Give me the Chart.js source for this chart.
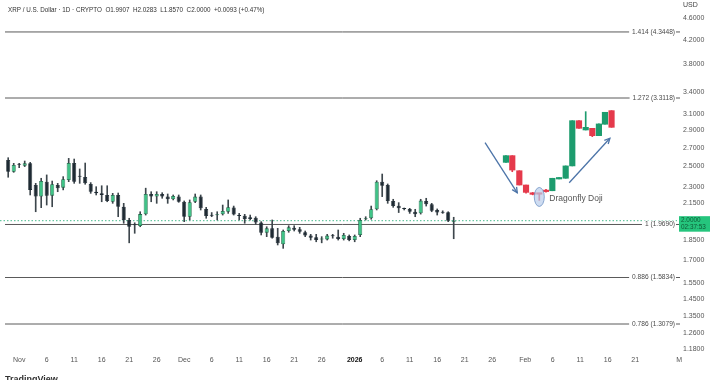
<!DOCTYPE html>
<html><head><meta charset="utf-8">
<script src="https://cdn.jsdelivr.net/npm/chart.js@4.4.1/dist/chart.umd.min.js"></script>
<style>html,body{margin:0;padding:0;background:#fff;}canvas{display:block;}</style>
</head><body>
<canvas id="c" width="720" height="380"></canvas>
<script>
// ---- data (days counted from 1 Nov 2025) ----
const firstDay = -2; // 30 Oct 2025
const open = [
 2.567,2.446,2.522,2.508,2.532,2.316,2.208,2.348,2.217,2.316,
 2.291,2.364,2.535,2.407,2.394,2.326,2.253,2.238,2.223,2.162,
 2.223,2.117,2.006,1.967,1.956,2.053,2.232,2.208,2.232,2.208,
 2.184,2.208,2.162,2.033,2.162,2.208,2.099,2.047,2.045,2.053,
 2.075,2.111,2.042,2.041,2.028,2.024,1.986,1.904,1.938,1.873,
 1.815,1.917,1.943,1.930,1.907,1.881,1.868,1.852,1.852,1.879,
 1.873,1.855,1.878,1.847,1.886,2.012,2.020,2.096,2.348,2.316,
 2.169,2.127,2.099,2.099,2.075,2.062,2.169,2.139,2.090,2.070,
 2.071,1.9907];
const high = [
 2.591,2.532,2.532,2.556,2.542,2.332,2.381,2.414,2.354,2.332,
 2.397,2.584,2.577,2.474,2.535,2.339,2.300,2.309,2.309,2.238,
 2.241,2.148,2.020,1.983,2.075,2.286,2.253,2.253,2.244,2.232,
 2.223,2.223,2.169,2.178,2.232,2.223,2.113,2.068,2.075,2.133,
 2.178,2.124,2.061,2.053,2.047,2.033,1.992,1.951,2.006,1.938,
 1.925,1.959,1.959,1.946,1.917,1.891,1.891,1.873,1.891,1.891,
 1.925,1.899,1.886,1.886,2.020,2.033,2.124,2.357,2.423,2.326,
 2.184,2.154,2.107,2.104,2.096,2.184,2.193,2.148,2.099,2.083,
 2.075,2.0283];
const low = [
 2.391,2.440,2.487,2.498,2.223,2.075,2.110,2.133,2.118,2.253,
 2.270,2.348,2.332,2.332,2.323,2.238,2.223,2.162,2.162,2.148,
 2.033,1.979,1.826,1.899,1.951,2.047,2.162,2.148,2.193,2.148,
 2.178,2.157,1.992,2.006,2.154,2.090,2.020,2.033,2.006,2.047,
 2.061,2.047,2.006,1.979,2.006,1.971,1.886,1.873,1.861,1.810,
 1.785,1.907,1.917,1.899,1.873,1.847,1.834,1.826,1.847,1.861,
 1.847,1.847,1.841,1.834,1.873,2.006,2.012,2.090,2.208,2.148,
 2.113,2.068,2.090,2.061,2.033,2.055,2.124,2.075,2.047,2.061,
 1.992,1.8570];
const close = [
 2.446,2.515,2.517,2.532,2.270,2.208,2.354,2.217,2.323,2.286,
 2.372,2.535,2.348,2.397,2.332,2.253,2.238,2.223,2.169,2.223,
 2.117,2.006,1.951,1.962,2.055,2.232,2.208,2.232,2.208,2.184,
 2.214,2.162,2.033,2.157,2.208,2.104,2.039,2.042,2.049,2.082,
 2.113,2.051,2.039,2.014,2.014,1.986,1.904,1.938,1.865,1.822,
 1.917,1.946,1.927,1.911,1.881,1.865,1.847,1.855,1.881,1.877,
 1.855,1.886,1.847,1.878,2.006,2.017,2.096,2.348,2.309,2.169,
 2.124,2.104,2.098,2.075,2.053,2.172,2.139,2.083,2.068,2.067,
 2.000,2.0000];

// illustrated pattern (drawn over the chart)
const patDays  = [88.5,89.65,90.93,92.15,93.36,94.56,95.78,96.93,98.15,99.36,100.56,101.78,103.0,104.2,105.4,106.5,107.7];
const patOpen  = [2.542,2.613,2.456,2.316,2.243,2.232,2.262,2.262,2.374,2.381,2.505,3.017,2.904,2.924,2.837,2.973,3.144];
const patHigh  = [2.613,2.613,2.456,2.316,2.246,2.232,2.276,2.381,2.387,2.505,3.017,3.017,3.131,2.924,2.977,3.123,3.144];
const patLow   = [2.542,2.446,2.316,2.239,2.224,2.174,2.249,2.262,2.374,2.381,2.505,2.924,2.904,2.825,2.837,2.973,2.936];
const patClose = [2.613,2.463,2.316,2.247,2.229,2.230,2.254,2.381,2.387,2.505,3.017,2.924,2.936,2.837,2.977,3.123,2.936];

const arrow1X = [84.7, 90.56],  arrow1Y = [2.757, 2.243];
const arrow2X = [100.0, 107.4], arrow2Y = [2.338, 2.807];
const dojiMark = {x: 94.56, y: 2.205, text: 'Dragonfly Doji'};

const fibRatios = ['1.414','1.272','1','0.886','0.786'];
const fibValues = [4.3448, 3.3118, 1.9690, 1.5834, 1.3079];
const lastPrice = 2.0000, countdown = '02:37:53';

const yTickValues = [1.18,1.26,1.35,1.45,1.55,1.7,1.85,2.15,2.3,2.5,2.7,2.9,3.1,3.4,3.8,4.2,4.6];
const xTickDays   = [0,5,10,15,20,25,30,35,40,45,50,55,61,66,71,76,81,86,92,97,102,107,112,120];
const xTickLabels = ['Nov','6','11','16','21','26','Dec','6','11','16','21','26','2026','6','11','16','21','26','Feb','6','11','16','21','M'];
const headerText = 'XRP / U.S. Dollar · 1D · CRYPTO  O1.9907  H2.0283  L1.8570  C2.0000  +0.0093 (+0.47%)';

// ---- styling ----
const FONT = '"Liberation Sans", Arial, sans-serif';
const upFill = '#3fc487', upLine = '#1f6a48', dnFill = '#1e2a33', dnLine = '#1e2a33', wickCol = '#3d464c';
const pUp = '#1d9c6e', pDn = '#e5394b';
const arrowColor = '#4c74a8';
const X_MIN = -3.491, X_MAX = 120.145, Y_MIN = 1.1657, Y_MAX = 4.955;

const days = open.map((_, i) => firstDay + i);
const isUp = open.map((o, i) => close[i] >= o);

const datasets = [];
datasets.push({
  type:'bar', label:'body', order:0, grouped:false,
  data: days.map((d,i)=>({x:d, y:[open[i], close[i]]})),
  backgroundColor: isUp.map(u=>u?upFill:dnFill),
  borderColor: isUp.map(u=>u?upLine:dnLine),
  borderWidth: 0.8, borderSkipped:false, minBarLength:1,
  barPercentage:0.74, categoryPercentage:1
});
datasets.push({
  type:'bar', label:'wick', order:1, grouped:false,
  data: days.map((d,i)=>({x:d, y:[low[i], high[i]]})),
  backgroundColor: wickCol, borderWidth:0,
  barPercentage:1, categoryPercentage:1, maxBarThickness:1
});
const pUpArr = patOpen.map((o,i)=>patClose[i] >= o);
datasets.push({
  type:'bar', label:'pbody', order:0, grouped:false,
  data: patDays.map((d,i)=>({x:d, y:[patOpen[i], patClose[i]]})),
  backgroundColor: pUpArr.map(u=>u?pUp:pDn), borderWidth:0, minBarLength:1.5,
  barPercentage:1, categoryPercentage:1, maxBarThickness:5.6
});
datasets.push({
  type:'bar', label:'pwick', order:1, grouped:false,
  data: patDays.map((d,i)=>({x:d, y:[patLow[i], patHigh[i]]})),
  backgroundColor: pUpArr.map(u=>u?pUp:pDn), borderWidth:0,
  barPercentage:1, categoryPercentage:1, maxBarThickness:1
});
fibValues.forEach((v,i)=>{
  datasets.push({type:'line', label:'fib'+fibRatios[i], order:10,
    data:[{x:-2.58,y:v},{x:X_MAX,y:v}], borderColor:'#5a5a5a', borderWidth:1,
    pointRadius:0, tension:0});
});
datasets.push({type:'line', label:'last', order:9,
  data:[{x:X_MIN,y:lastPrice},{x:X_MAX,y:lastPrice}], borderColor:'#47b98c', borderWidth:1,
  borderDash:[1.5,2], pointRadius:0});
[[arrow1X,arrow1Y],[arrow2X,arrow2Y]].forEach(([ax,ay],k)=>{
  datasets.push({type:'line', label:'arrow'+k, order:-1,
    data: ax.map((v,i)=>({x:v,y:ay[i]})), borderColor:arrowColor, borderWidth:1.3,
    pointRadius:0});
});

const overlay = {
  id:'overlay',
  afterDatasetsDraw(chart){
    const {ctx, scales:{x,y}} = chart;
    ctx.save();
    [[arrow1X,arrow1Y],[arrow2X,arrow2Y]].forEach(([ax,ay])=>{
      const x1=x.getPixelForValue(ax[0]), y1=y.getPixelForValue(ay[0]);
      const x2=x.getPixelForValue(ax[1]), y2=y.getPixelForValue(ay[1]);
      const a=Math.atan2(y2-y1,x2-x1), L=6;
      ctx.strokeStyle=arrowColor; ctx.lineWidth=1.3; ctx.beginPath();
      ctx.moveTo(x2-L*Math.cos(a-0.45), y2-L*Math.sin(a-0.45));
      ctx.lineTo(x2,y2);
      ctx.lineTo(x2-L*Math.cos(a+0.45), y2-L*Math.sin(a+0.45));
      ctx.stroke();
    });
    const cx=x.getPixelForValue(dojiMark.x), cy=y.getPixelForValue(dojiMark.y);
    ctx.beginPath(); ctx.ellipse(cx,cy,5,9.5,0,0,Math.PI*2);
    ctx.fillStyle='rgba(185,205,235,0.7)'; ctx.fill();
    ctx.strokeStyle='#7093c4'; ctx.lineWidth=0.8; ctx.stroke();
    ctx.fillStyle='#555'; ctx.font='8.5px '+FONT; ctx.textAlign='left'; ctx.textBaseline='middle';
    ctx.fillText(dojiMark.text, cx+10, cy+2);
    ctx.font='6.6px '+FONT; ctx.textAlign='right';
    fibValues.forEach((v,i)=>{
      const t = fibRatios[i]+' ('+v.toFixed(4)+')';
      const py=y.getPixelForValue(v), w=ctx.measureText(t).width, rx=675;
      ctx.fillStyle='#fff'; ctx.fillRect(rx-w-3, py-4, w+4, 8);
      ctx.fillStyle='#4a4a4a'; ctx.fillText(t, rx, py);
    });
    ctx.restore();
  },
  afterDraw(chart){
    const {ctx, scales:{y}} = chart;
    ctx.save();
    ctx.fillStyle='#333'; ctx.font='6.3px '+FONT; ctx.textAlign='left'; ctx.textBaseline='middle';
    ctx.fillText(headerText, 8, 10);
    ctx.fillStyle='#444'; ctx.font='7px '+FONT;
    ctx.fillText('USD', 683, 5);
    const py=y.getPixelForValue(lastPrice);
    ctx.fillStyle='#25c57d'; ctx.fillRect(679, py-4.5, 31, 15.5);
    ctx.fillStyle='#0f5a36'; ctx.font='6.4px '+FONT;
    ctx.fillText(lastPrice.toFixed(4), 681, py-0.5);
    ctx.fillText(countdown, 681, py+6.5);
    ctx.fillStyle='#333'; ctx.font='bold 9px '+FONT; ctx.textBaseline='alphabetic';
    ctx.fillText('TradingView', 5, 382);
    ctx.restore();
  }
};

new Chart(document.getElementById('c'), {
  type:'bar',
  data:{datasets},
  options:{
    responsive:false, animation:false, devicePixelRatio:1,
    layout:{padding:{top:0,left:0,right:0,bottom:14}},
    plugins:{legend:{display:false}, tooltip:{enabled:false}},
    scales:{
      x:{type:'linear', min:X_MIN, max:X_MAX, bounds:'data', offset:false,
        grid:{display:false, drawTicks:false}, border:{display:false},
        afterBuildTicks: s => { s.ticks = xTickDays.map(v=>({value:v})); },
        afterFit: s => { s.height = 14; s.paddingLeft = 0; s.paddingRight = 0; },
        ticks:{autoSkip:false, maxRotation:0, padding:4,
          callback:(v,i)=>xTickLabels[i],
          color: c => xTickLabels[c.index]==='2026' ? '#111' : '#555',
          font: c => ({family:FONT, size:7, weight: xTickLabels[c.index]==='2026' ? 'bold' : 'normal'})}
      },
      y:{type:'logarithmic', position:'right', min:Y_MIN, max:Y_MAX, bounds:'data',
        grid:{display:false, drawTicks:false}, border:{display:false},
        afterBuildTicks: s => { s.ticks = yTickValues.map(v=>({value:v})); },
        afterFit: s => { s.width = 40; s.paddingTop = 0; s.paddingBottom = 0; },
        ticks:{autoSkip:false, padding:3, color:'#555', font:{family:FONT,size:7},
          callback: v => Number(v).toFixed(4)}
      }
    }
  },
  plugins:[overlay]
});
</script>
</body></html>
